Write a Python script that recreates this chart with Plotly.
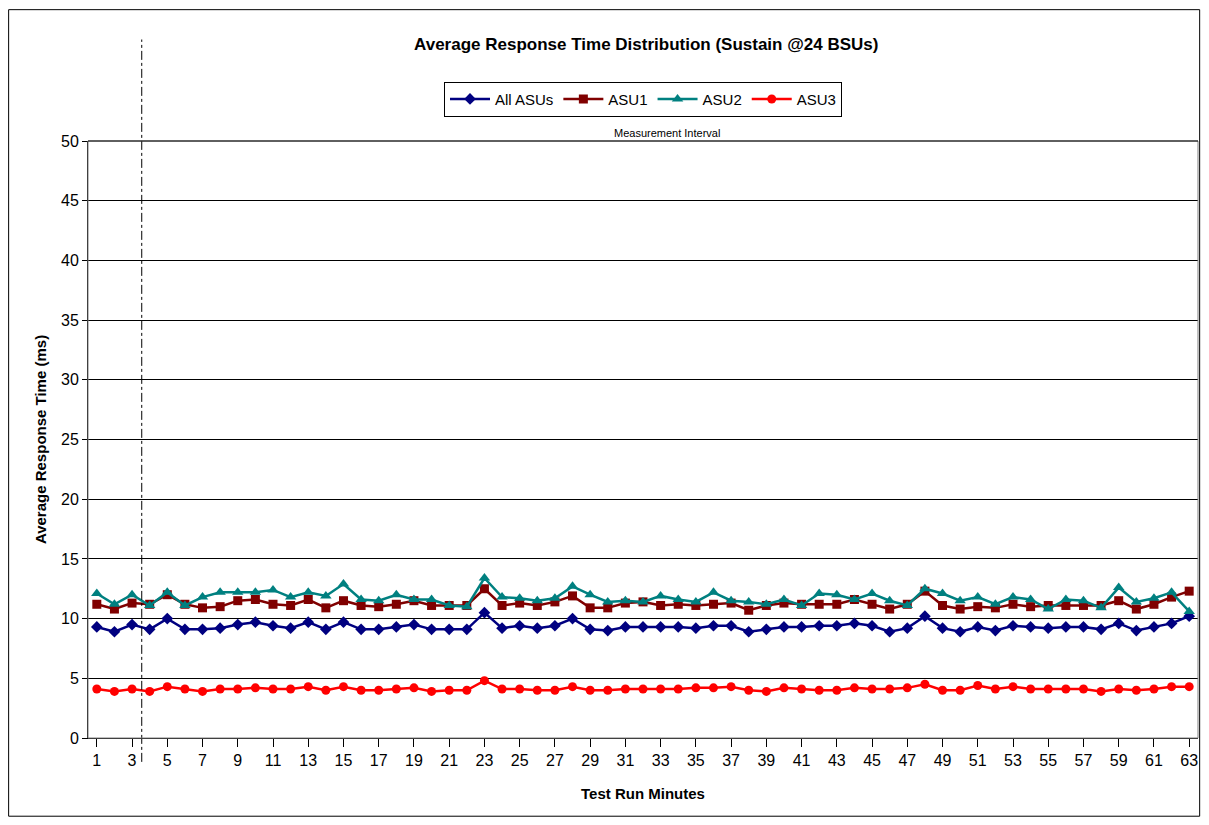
import plotly.graph_objects as go

# ===================== Data =====================
minutes = list(range(1, 64))
all_asus = [9.3, 8.9, 9.5, 9.1, 10.0, 9.1, 9.1, 9.2, 9.5, 9.7, 9.4, 9.2, 9.7, 9.1, 9.7, 9.1, 9.1, 9.3, 9.5, 9.1, 9.1,
            9.1, 10.5, 9.2, 9.4, 9.2, 9.4, 10.0, 9.1, 9.0, 9.3, 9.3, 9.3, 9.3, 9.2, 9.4, 9.4, 8.9, 9.1, 9.3, 9.3, 9.4,
            9.4, 9.6, 9.4, 8.9, 9.2, 10.2, 9.2, 8.9, 9.3, 9.0, 9.4, 9.3, 9.2, 9.3, 9.3, 9.1, 9.6, 9.0, 9.3, 9.6, 10.2]
asu1 = [11.2, 10.8, 11.3, 11.2, 12.0, 11.2, 10.9, 11.0, 11.5, 11.6, 11.2, 11.1, 11.6, 10.9, 11.5, 11.1, 11.0, 11.2,
        11.5, 11.1, 11.1, 11.1, 12.5, 11.1, 11.3, 11.1, 11.4, 11.9, 10.9, 10.9, 11.3, 11.4, 11.1, 11.2, 11.1, 11.2,
        11.3, 10.7, 11.1, 11.3, 11.2, 11.2, 11.2, 11.6, 11.2, 10.8, 11.2, 12.3, 11.1, 10.8, 11.0, 10.9, 11.2, 11.0,
        11.1, 11.1, 11.1, 11.1, 11.5, 10.8, 11.2, 11.8, 12.3]
asu2 = [12.1, 11.2, 12.0, 11.1, 12.2, 11.1, 11.8, 12.2, 12.2, 12.2, 12.4, 11.8, 12.2, 11.9, 12.9, 11.6, 11.5, 12.0,
        11.6, 11.6, 11.1, 11.0, 13.4, 11.8, 11.7, 11.5, 11.7, 12.7, 12.0, 11.4, 11.5, 11.4, 11.9, 11.6, 11.4, 12.2,
        11.5, 11.4, 11.2, 11.6, 11.1, 12.1, 12.0, 11.6, 12.1, 11.5, 11.1, 12.5, 12.1, 11.5, 11.8, 11.2, 11.8, 11.6,
        10.8, 11.6, 11.5, 10.9, 12.6, 11.4, 11.7, 12.2, 10.6]
asu3 = [4.1, 3.9, 4.1, 3.9, 4.3, 4.1, 3.9, 4.1, 4.1, 4.2, 4.1, 4.1, 4.3, 4.0, 4.3, 4.0, 4.0, 4.1, 4.2, 3.9, 4.0, 4.0,
        4.8, 4.1, 4.1, 4.0, 4.0, 4.3, 4.0, 4.0, 4.1, 4.1, 4.1, 4.1, 4.2, 4.2, 4.3, 4.0, 3.9, 4.2, 4.1, 4.0, 4.0, 4.2,
        4.1, 4.1, 4.2, 4.5, 4.0, 4.0, 4.4, 4.1, 4.3, 4.1, 4.1, 4.1, 4.1, 3.9, 4.1, 4.0, 4.1, 4.3, 4.3]
tick_vals = list(range(1, 64, 2))
interval_start = 3.55

# ===================== Figure =====================
fig = go.Figure()
series = [
    ("All ASUs", all_asus, "#000080", "diamond", 9),
    ("ASU1", asu1, "#800000", "square", 9),
    ("ASU2", asu2, "#008080", "triangle-up", 10),
    ("ASU3", asu3, "#FF0000", "circle", 9),
]
for name, vals, color, symbol, size in series:
    fig.add_trace(go.Scatter(
        x=minutes, y=vals, name=name, mode="lines+markers",
        line=dict(color=color, width=2.5),
        marker=dict(symbol=symbol, size=size, color=color),
    ))

fig.add_shape(type="line", xref="x", yref="paper", x0=interval_start, x1=interval_start,
              y0=-0.04, y1=1.17, line=dict(color="black", width=1, dash="dashdot"))
fig.add_annotation(text="Measurement Interval", xref="paper", yref="paper", x=0.522, y=1.0,
                   yanchor="bottom", showarrow=False, font=dict(size=11, color="black"))
# outer border
fig.add_shape(type="rect", xref="paper", yref="paper", x0=-0.0715, x1=1.0015, y0=-0.131, y1=1.22,
              line=dict(color="black", width=1))

fig.update_layout(
    width=1193, height=809,
    margin=dict(l=80, r=3, t=133, b=79, autoexpand=False),
    paper_bgcolor="white", plot_bgcolor="white",
    font=dict(family="Arial, Liberation Sans", size=16, color="black"),
    title=dict(text="<b>Average Response Time Distribution (Sustain @24 BSUs)</b>",
               x=0.535, xanchor="center", y=0.963, font=dict(size=17)),
    legend=dict(orientation="h", x=0.5, xanchor="center", y=1.07, yanchor="middle",
                bordercolor="black", borderwidth=1, font=dict(size=15),
                itemwidth=40, tracegroupgap=0),
    xaxis=dict(range=[0.5, 63.5], tickvals=tick_vals, showgrid=False, showline=True,
               linecolor="black", ticks="outside", tickcolor="black", ticklen=8,
               automargin=False,
               title=dict(text="<b>Test Run Minutes</b>", font=dict(size=15), standoff=20)),
    yaxis=dict(range=[0, 50], dtick=5, showgrid=True, gridcolor="black", gridwidth=1,
               showline=True, linecolor="black", ticks="outside", tickcolor="black", ticklen=5,
               automargin=False,
               title=dict(text="<b>Average Response Time (ms)</b>", font=dict(size=15), standoff=10),
               zeroline=False),
)
fig.add_shape(type="rect", xref="paper", yref="paper", x0=0, x1=1, y0=0, y1=1,
              line=dict(color="gray", width=1))
fig.add_shape(type="line", xref="paper", yref="paper", x0=0, x1=1, y0=1, y1=1,
              line=dict(color="black", width=1))

fig.write_html("out.html")
